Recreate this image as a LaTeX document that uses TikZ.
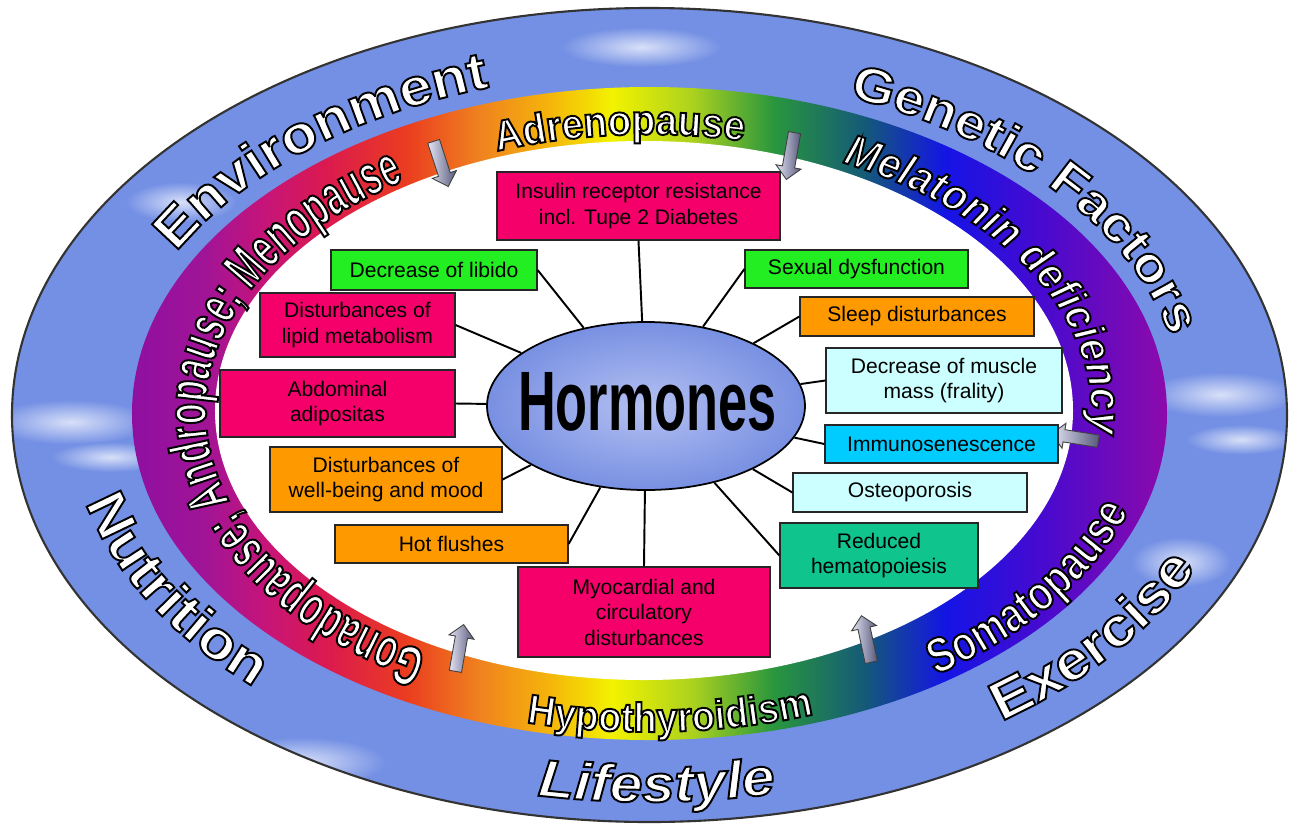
\documentclass[tikz,border=0pt]{standalone}
\usepackage{fontspec}
\setmainfont{Liberation Sans}
\newfontfamily\slimfont[FakeStretch=0.62]{Liberation Sans}
\newfontfamily\narrowfont[FakeStretch=0.8]{Liberation Sans}
\newfontfamily\midfont[FakeStretch=0.92]{Liberation Sans}
\newfontfamily\widefont[FakeStretch=1.12]{Liberation Sans}
\usetikzlibrary{positioning, shapes.geometric, shapes.arrows, decorations.text, calc}
\usepackage{xcolor}
\definecolor{bandblue}{HTML}{7490E4}
\definecolor{cloudwhite}{HTML}{D8E0F8}
\definecolor{hpink}{HTML}{F5006A}
\definecolor{hgreen}{HTML}{22EE22}
\definecolor{horange}{HTML}{FF9900}
\definecolor{hpale}{HTML}{CCFFFF}
\definecolor{hcyan}{HTML}{00CCFF}
\definecolor{hteal}{HTML}{10C48E}
\definecolor{hormlight}{HTML}{B4C0F2}
\definecolor{hormblue}{HTML}{7890E2}
\definecolor{arrowdark}{HTML}{56587A}
\definecolor{arrowlight}{HTML}{E4E4F4}

\pgfdeclarehorizontalshading{rainbowband}{100bp}{
  rgb(0bp)=(0.56,0.06,0.63); rgb(25bp)=(0.56,0.06,0.63);
  rgb(28.5bp)=(0.63,0.08,0.59); rgb(31.5bp)=(0.78,0.08,0.47);
  rgb(34.4bp)=(0.86,0.10,0.31); rgb(38.3bp)=(0.92,0.24,0.12);
  rgb(41.8bp)=(0.94,0.51,0.12); rgb(45.2bp)=(0.96,0.71,0.04);
  rgb(48.2bp)=(0.95,0.95,0.00); rgb(52.1bp)=(0.67,0.82,0.12);
  rgb(56bp)=(0.16,0.59,0.24); rgb(60.4bp)=(0.08,0.35,0.47);
  rgb(64.3bp)=(0.08,0.08,0.90); rgb(68.7bp)=(0.27,0.04,0.82);
  rgb(75bp)=(0.55,0.04,0.67); rgb(100bp)=(0.55,0.04,0.67)}

% white letters with a dark rim
\newcommand\outlined{\color{white}\special{pdf:literal direct 2 Tr 1.1 w 0 G}}

\begin{document}
\begin{tikzpicture}[
    font=\fontsize{12}{14.5}\selectfont,
    box/.style={draw=black!85, line width=0.7pt, align=center, inner sep=1pt},
    link/.style={draw=black, line width=1.1pt},
    bandarrow/.style={single arrow, draw=black!75, line width=0.5pt,
      minimum height=0.95cm, inner sep=0.115cm, single arrow head extend=0.13cm,
      left color=arrowlight, right color=arrowdark}]
  \useasboundingbox (-12.92,-8.26) rectangle (12.92,8.24);
  \fill[white] (-12.92,-8.26) rectangle (12.92,8.24);

  % sky ring
  \fill[bandblue] (0.07,-0.06) ellipse [x radius=12.75, y radius=8.14];
  \begin{scope}
    \clip (0.07,-0.06) ellipse [x radius=12.75, y radius=8.14];
    \shade[inner color=cloudwhite, outer color=bandblue] (-11.5,-0.2) ellipse [x radius=1.6, y radius=0.45];
    \shade[inner color=cloudwhite, outer color=bandblue] (-10.7,-0.9) ellipse [x radius=1.2, y radius=0.3];
    \shade[inner color=cloudwhite, outer color=bandblue] (11.5,0.35) ellipse [x radius=1.5, y radius=0.45];
    \shade[inner color=cloudwhite, outer color=bandblue] (11.9,-0.55) ellipse [x radius=1.1, y radius=0.3];
    \shade[inner color=cloudwhite, outer color=bandblue] (-6.9,-7.0) ellipse [x radius=1.7, y radius=0.5];
    \shade[inner color=cloudwhite, outer color=bandblue] (-9.3,4.2) ellipse [x radius=1.1, y radius=0.4];
    \shade[inner color=cloudwhite, outer color=bandblue] (10.7,-3.0) ellipse [x radius=1.0, y radius=0.5];
    \shade[inner color=cloudwhite, outer color=bandblue] (-0.1,7.3) ellipse [x radius=1.6, y radius=0.4];
  \end{scope}
  \draw[black!80, line width=1.2pt] (0.07,-0.06) ellipse [x radius=12.75, y radius=8.14];

  % rainbow ring
  \shade[shading=rainbowband] (0.07,-0.03) ellipse [x radius=10.35, y radius=6.53];
  \fill[white] (-0.04,0.03) ellipse [x radius=8.58, y radius=5.39];

  % ring labels
  \begin{scope}
    \path[decorate, decoration={text along path,
      text={|\outlined\widefont\bfseries\fontsize{30}{30}\selectfont|Environment}}]
      (0.05,0) ++(152:10.7 and 6.8) arc[start angle=152, end angle=80, x radius=10.7, y radius=6.8];
    \path[decorate, decoration={text along path,
      text={|\outlined\widefont\bfseries\fontsize{28}{28}\selectfont|Genetic Factors}}]
      (0.05,0) ++(68:10.7 and 6.8) arc[start angle=68, end angle=-20, x radius=10.7, y radius=6.8];
    \path[decorate, decoration={text along path,
      text={|\outlined\widefont\bfseries\fontsize{31}{31}\selectfont|Nutrition}}]
      (0.05,0) ++(194:11.6 and 7.5) arc[start angle=194, end angle=255, x radius=11.6, y radius=7.5];
    \path[decorate, decoration={text along path,
      text={|\outlined\widefont\bfseries\itshape\fontsize{30}{30}\selectfont|Lifestyle}}]
      (0.05,0) ++(259.5:12.2 and 7.8) arc[start angle=259.5, end angle=300, x radius=12.2, y radius=7.8];
    \path[decorate, decoration={text along path,
      text={|\outlined\widefont\bfseries\fontsize{31}{31}\selectfont|Exercise}}]
      (0.05,0) ++(306:12.0 and 7.65) arc[start angle=306, end angle=360, x radius=12.0, y radius=7.65];
    \path[decorate, decoration={text along path,
      text={|\outlined\slimfont\bfseries\fontsize{32}{32}\selectfont|Gonadopause; Andropause; Menopause}}]
      (0.05,0) ++(240:8.85 and 5.55) arc[start angle=240, end angle=100, x radius=8.85, y radius=5.55];
    \path[decorate, decoration={text along path,
      text={|\outlined\midfont\bfseries\fontsize{24}{24}\selectfont|Adrenopause}}]
      (0.05,0) ++(110:8.85 and 5.55) arc[start angle=110, end angle=50, x radius=8.85, y radius=5.55];
    \path[decorate, decoration={text along path,
      text={|\outlined\midfont\bfseries\itshape\fontsize{25}{25}\selectfont|Melatonin deficiency}}]
      (0.05,0) ++(64:8.85 and 5.55) arc[start angle=64, end angle=-30, x radius=8.85, y radius=5.55];
    \path[decorate, decoration={text along path,
      text={|\outlined\narrowfont\bfseries\fontsize{28}{28}\selectfont|Somatopause}}]
      (0.05,0) ++(304.7:10.1 and 6.4) arc[start angle=304.7, end angle=350, x radius=10.1, y radius=6.4];
    \path[decorate, decoration={text along path,
      text={|\outlined\midfont\bfseries\fontsize{23.5}{23.5}\selectfont|Hypothyroidism}}]
      (0.05,0) ++(256:10.1 and 6.4) arc[start angle=256, end angle=300, x radius=10.1, y radius=6.4];
  \end{scope}

  \node[bandarrow, rotate=-72] (arrowadr) at (-4.12,5.02) {};
  \node[bandarrow, rotate=-100] (arrowmel) at (2.9,5.18) {};
  \node[bandarrow, rotate=171] (arrowsom) at (8.64,-0.52) {};
  \node[bandarrow, rotate=80] (arrowgon) at (-3.74,-4.78) {};
  \node[bandarrow, rotate=102] (arrowhyp) at (4.42,-4.6) {};

  % centre
  \node[ellipse, draw=black, line width=1pt, inner color=hormlight, outer color=hormblue,
        minimum width=6.36cm, minimum height=3.36cm, inner sep=0pt] (horm) at (0,0.12) {};
  \node[font=\slimfont\bfseries\fontsize{48}{48}\selectfont] (hormlabel) at (0.03,0.2) {Hormones};

  \node[box, fill=hpink, minimum width=5.66cm, minimum height=1.36cm] (insulin) at (-0.15,4.12)
    {Insulin receptor resistance\\incl. Tupe 2 Diabetes};
  \node[box, fill=hgreen, minimum width=4.12cm, minimum height=0.8cm] (libido) at (-4.24,2.84)
    {Decrease of libido};
  \node[box, fill=hpink, minimum width=3.9cm, minimum height=1.28cm] (lipid) at (-5.77,1.74)
    {Disturbances of\\lipid metabolism};
  \node[box, fill=hpink, minimum width=4.7cm, minimum height=1.34cm] (adipo) at (-6.17,0.17)
    {Abdominal\\adipositas};
  \node[box, fill=horange, minimum width=4.64cm, minimum height=1.3cm] (mood) at (-5.2,-1.35)
    {Disturbances of\\well-being and mood};
  \node[box, fill=horange, minimum width=4.66cm, minimum height=0.76cm] (flush) at (-3.89,-2.64)
    {Hot flushes};
  \node[box, fill=hpink, minimum width=5.04cm, minimum height=1.8cm] (cardio) at (-0.04,-4.0)
    {Myocardial and\\circulatory\\disturbances};
  \node[box, fill=hgreen, minimum width=4.46cm, minimum height=0.76cm] (sexual) at (4.21,2.86)
    {Sexual dysfunction};
  \node[box, fill=horange, minimum width=4.68cm, minimum height=0.78cm] (sleep) at (5.42,1.91)
    {Sleep disturbances};
  \node[box, fill=hpale, minimum width=4.72cm, minimum height=1.3cm] (muscle) at (5.96,0.63)
    {Decrease of muscle\\mass (frality)};
  \node[box, fill=hcyan, minimum width=4.66cm, minimum height=0.76cm] (immuno) at (5.91,-0.64)
    {Immunosenescence};
  \node[box, fill=hpale, minimum width=4.68cm, minimum height=0.78cm] (bone) at (5.28,-1.61)
    {Osteoporosis};
  \node[box, fill=hteal, minimum width=3.96cm, minimum height=1.3cm] (blood) at (4.66,-2.87)
    {Reduced\\hematopoiesis};

  \draw[link] (horm) -- (insulin.south);
  \draw[link] (horm) -- (libido.east);
  \draw[link] (horm) -- (lipid.east);
  \draw[link] (horm) -- (adipo.east);
  \draw[link] (horm) -- (mood.east);
  \draw[link] (horm) -- (flush.east);
  \draw[link] (horm) -- (cardio.north);
  \draw[link] (horm) -- (sexual.west);
  \draw[link] (horm) -- (sleep.west);
  \draw[link] (horm) -- (muscle.west);
  \draw[link] (horm) -- (immuno.west);
  \draw[link] (horm) -- (bone.west);
  \draw[link] (horm) -- (blood.west);
\end{tikzpicture}
\end{document}
